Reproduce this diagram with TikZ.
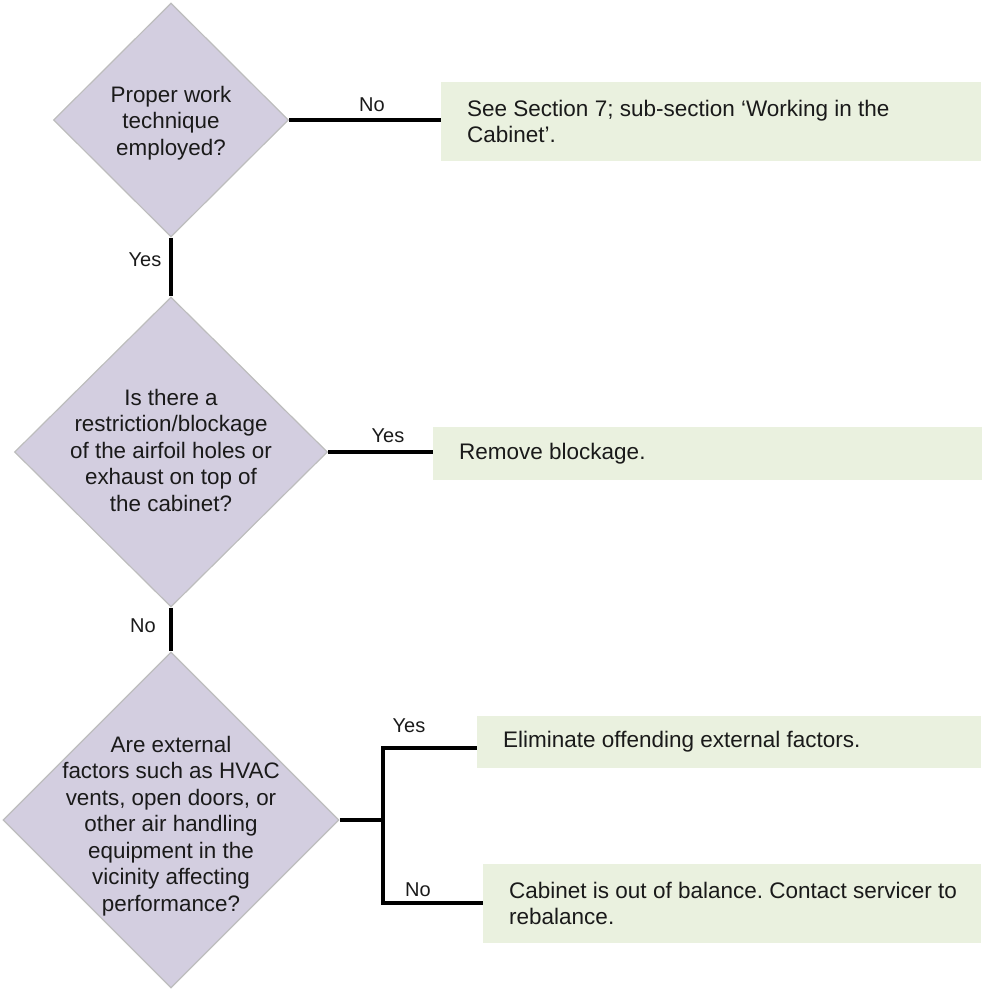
\documentclass[tikz,border=0pt]{standalone}
\usepackage{fontspec}
\setmainfont{Liberation Sans}
\usetikzlibrary{shapes.geometric}
\frenchspacing
\definecolor{dfill}{HTML}{D3CEE0}
\definecolor{dline}{HTML}{BDBDBD}
\definecolor{bfill}{HTML}{EAF1DF}
\definecolor{txt}{HTML}{1A1A1A}
\tikzset{
  decision/.style={diamond, draw=dline, line width=1.2pt, fill=dfill, inner sep=0pt, aspect=1},
  dtext/.style={align=center, text=txt, font=\fontsize{22.4}{26.5}\selectfont, inner sep=0pt},
  answer/.style={fill=bfill, anchor=west, inner sep=0pt},
  atext/.style={anchor=west, align=left, text=txt, inner sep=0pt, font=\fontsize{22.5}{26}\selectfont},
  conn/.style={line width=3.4pt, black},
  lbl/.style={text=txt, font=\fontsize{20}{24}\selectfont, inner sep=0pt}
}
\begin{document}
\begin{tikzpicture}[x=1pt,y=-1pt]
\useasboundingbox (0,0) rectangle (983,990);
% diamonds
\node[decision, minimum width=235, minimum height=234] (d1) at (171,120) {};
\node[decision, minimum width=313, minimum height=310] (d2) at (171,452) {};
\node[decision, minimum width=336, minimum height=336] (d3) at (171,820) {};
\node[dtext] (t1) at (171,123) {Proper work\\technique\\employed?};
\node[dtext] (t2) at (171,450) {Is there a\\restriction/blockage\\of the airfoil holes or\\exhaust on top of\\the cabinet?};
\node[dtext] (t3) at (171,826) {Are external\\factors such as HVAC\\vents, open doors, or\\other air handling\\equipment in the\\vicinity affecting\\performance?};
% answer boxes
\node[answer, minimum width=540, minimum height=79] (b1) at (441,121.5) {};
\node[answer, minimum width=549, minimum height=53] (b2) at (433,453.5) {};
\node[answer, minimum width=504, minimum height=52] (b3) at (477,742) {};
\node[answer, minimum width=498, minimum height=79] (b4) at (483,903.5) {};
\node[atext] (s1) at ([xshift=26]b1.west) {See Section 7; sub-section ‘Working in the\\Cabinet’.};
\node[atext] (s2) at ([xshift=26]b2.west) {Remove blockage.};
\node[atext] (s3) at ([xshift=26]b3.west) {Eliminate offending external factors.};
\node[atext] (s4) at ([xshift=26]b4.west) {Cabinet is out of balance. Contact servicer to\\rebalance.};
% connectors
\draw[conn] (d1.east) -- (d1.east -| b1.west);
\draw[conn] (d1.south) -- (d2.north);
\draw[conn] (d2.east) -- (d2.east -| b2.west);
\draw[conn] (d2.south) -- (d3.north);
\coordinate (j) at (383,820);
\coordinate (ya) at (383,748);
\coordinate (na) at (383,903);
\draw[conn] (d3.east) -- (j);
\draw[conn, line cap=rect] (ya) -- (na);
\draw[conn] (ya) -- (ya -| b3.west);
\draw[conn] (na) -- (na -| b4.west);
% labels
\node[lbl] (l1) at (372,105) {No};
\node[lbl] (l2) at (145,260) {Yes};
\node[lbl] (l3) at (388,436) {Yes};
\node[lbl] (l4) at (143,626) {No};
\node[lbl] (l5) at (409,726) {Yes};
\node[lbl] (l6) at (418,890) {No};
\end{tikzpicture}
\end{document}
